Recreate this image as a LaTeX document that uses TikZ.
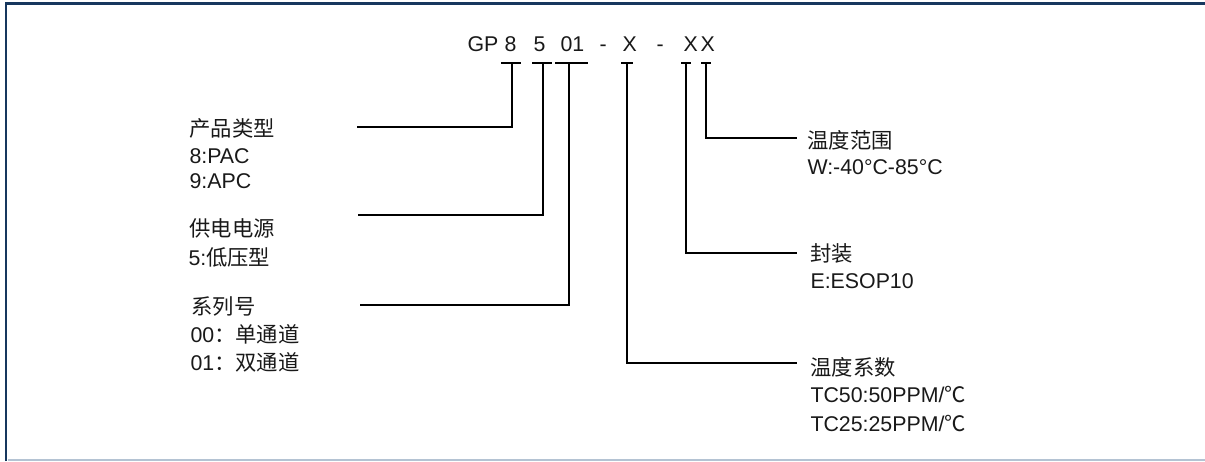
\documentclass[tikz,border=0pt]{standalone}
\usepackage{fontspec}
\setmainfont{Liberation Sans}
\newfontfamily\cjk{Noto Sans CJK SC}
\definecolor{framenavy}{HTML}{17375E}
\definecolor{framegray}{HTML}{B4C3D3}

\begin{document}
\begin{tikzpicture}[x=0.75pt,y=-0.75pt,line width=0.8pt,
        every node/.style={inner sep=0pt,text=black!90,font=\fontsize{16}{20}\selectfont},
        code/.style={anchor=base west},
        lbl/.style={anchor=base west}]
       \useasboundingbox(0,0)rectangle(1205,461);
       % frame
       \draw[framenavy,line width=2.1pt](6,461)--(6,3.3)--(1205,3.3);
       \draw[framegray,line width=1.2pt](8,460)--(1205,460);
       % part number
       \node[code](gp)at(467,51){GP};
       \node[code](d8)at(504,51){8};
       \node[code](d5)at(533,51){5};
       \node[code](d01)at(560,51){01};
       \node[code](dash1)at(599,51){-};
       \node[code](xtc)at(622,51){X};
       \node[code](dash2)at(656,51){-};
       \node[code](xpk)at(683,51){X};
       \node[code](xtr)at(700,51){X};
       \coordinate(s8)at(512,63);
       \coordinate(s5)at(543,63);
       \coordinate(s01)at(569,63);
       \coordinate(stc)at(627,63);
       \coordinate(spk)at(686,63);
       \coordinate(str)at(706,63);
       \foreach \s/\l/\w in {s8/11/20,s5/11/20,s01/14/33,stc/6/12,spk/5/10,str/5/10}
         \draw(\s)++(-\l,0)--++(\w,0);
       % left labels
       \node[lbl](type)at(189,136){\cjk 产品类型};
       \node[lbl](type8)at(189,163){8:PAC};
       \node[lbl](type9)at(189,188){9:APC};
       \node[lbl](power)at(189,236){\cjk 供电电源};
       \node[lbl](power5)at(188,265){5:\cjk 低压型};
       \node[lbl](series)at(191,314){\cjk 系列号};
       \node[lbl](series0)at(190,342){00\cjk ：单通道};
       \node[lbl](series1)at(190,370){01\cjk ：双通道};
       % right labels
       \node[lbl](range)at(807,148){\cjk 温度范围};
       \node[lbl](rangew)at(807,174){W:-40°C-85°C};
       \node[lbl](pack)at(810,261){\cjk 封装};
       \node[lbl](packe)at(810,288){E:ESOP10};
       \node[lbl](tc)at(810,375){\cjk 温度系数};
       \node[lbl](tc50)at(810,402){TC50:50PPM/{\cjk ℃}};
       \node[lbl](tc25)at(810,431){TC25:25PPM/{\cjk ℃}};
       % connectors
       \coordinate(ctype)at(357,127);
       \coordinate(cpower)at(358,215);
       \coordinate(cseries)at(360,305);
       \coordinate(crange)at(797,138);
       \coordinate(cpack)at(797,253);
       \coordinate(ctc)at(797,363);
       \draw(s8)--(s8|-ctype)--(ctype);
       \draw(s5)--(s5|-cpower)--(cpower);
       \draw(s01)--(s01|-cseries)--(cseries);
       \draw(str)--(str|-crange)--(crange);
       \draw(spk)--(spk|-cpack)--(cpack);
       \draw(stc)--(stc|-ctc)--(ctc);
    \end{tikzpicture}
\end{document}
